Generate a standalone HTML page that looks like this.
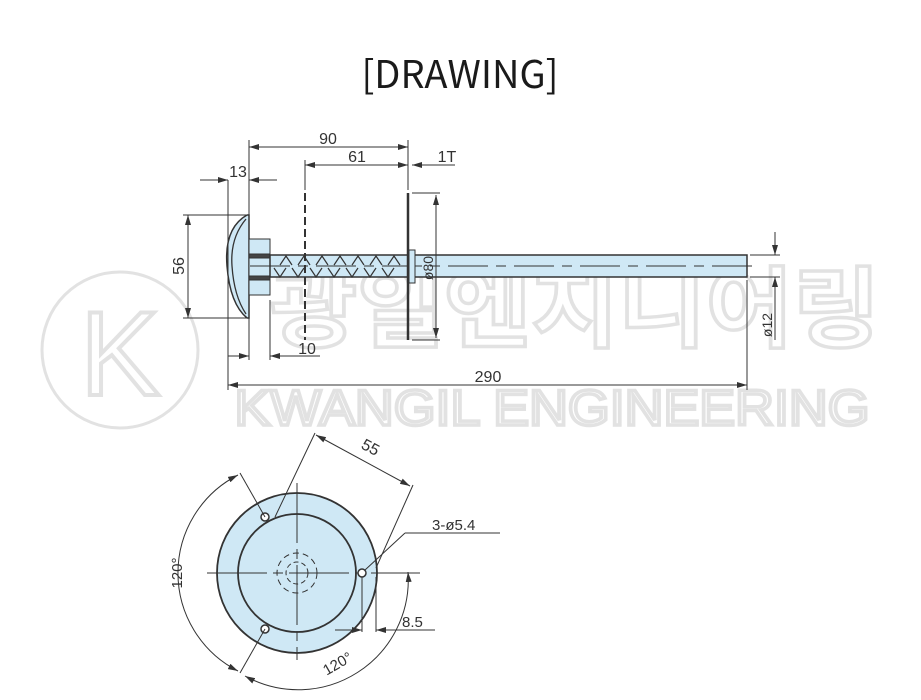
<!DOCTYPE html>
<html><head><meta charset="utf-8"><style>
html,body{margin:0;padding:0;background:#fff;}
svg{display:block;}
</style></head><body>
<svg width="921" height="700" viewBox="0 0 921 700" xmlns="http://www.w3.org/2000/svg" font-family="Liberation Sans, sans-serif">
<defs>
<marker id="a" viewBox="0 0 10 6" refX="10" refY="3" markerWidth="10" markerHeight="6" orient="auto-start-reverse" markerUnits="userSpaceOnUse"><path d="M0,0 L10,3 L0,6z" fill="#333"/></marker>
</defs>
<text x="460" y="88" text-anchor="middle" font-size="38" fill="#1a1a1a" font-family="Noto Sans CJK KR, Liberation Sans, sans-serif" font-weight="400">[DRAWING]</text>

<!-- watermark -->
<g fill="none" stroke="#e2e2e2" stroke-width="3">
<circle cx="120" cy="350" r="78"/>
<text x="120" y="395" text-anchor="middle" font-size="120" stroke-width="4">K</text>
<text x="575" y="340" text-anchor="middle" font-size="88" font-weight="bold" font-family="Noto Sans CJK KR, sans-serif" textLength="610" lengthAdjust="spacingAndGlyphs" stroke-width="3.5">광일엔지니어링</text>
<text x="552" y="425" text-anchor="middle" font-size="50" textLength="635" lengthAdjust="spacingAndGlyphs" stroke-width="3.5">KWANGIL ENGINEERING</text>
</g>

<g stroke="#333" stroke-width="1" fill="none">
<path d="M247,215 Q224,228 227,266 Q230,304 247,318 L249,318 L249,215z" fill="#cfe8f5" stroke="#333" stroke-width="1.5"/>
<path d="M246,219 Q230,238 232,266 Q234,296 246,314" stroke-width="1.3"/>
<rect x="249" y="239" width="21" height="56" fill="#cfe8f5"/>
<rect x="249" y="254" width="21" height="4" fill="#444"/>
<rect x="249" y="276" width="21" height="4" fill="#444"/>
<rect x="270" y="255" width="477" height="22" fill="#cfe8f5" stroke-width="1.5"/>
<line x1="250" y1="266" x2="760" y2="266" stroke-dasharray="40,8,10,8"/>
<path d="M280,265 l6,-9 l6,9 m6,0 l6,-9 l6,9 m6,0 l6,-9 l6,9 m6,0 l6,-9 l6,9 m6,0 l6,-9 l6,9 m6,0 l6,-9 l6,9 m6,0 l6,-9 l6,9 M274,268 l6,9 l6,-9 m6,0 l6,9 l6,-9 m6,0 l6,9 l6,-9 m6,0 l6,9 l6,-9 m6,0 l6,9 l6,-9 m6,0 l6,9 l6,-9 m6,0 l6,9 l6,-9" stroke-width="1.2"/>
<line x1="408" y1="193" x2="408" y2="340" stroke-width="2.5"/>
<rect x="409" y="250" width="6" height="33" fill="#cfe8f5"/>
<line x1="305" y1="193" x2="305" y2="340" stroke-width="2" stroke-dasharray="8,4"/>
<line x1="249" y1="140" x2="249" y2="360"/>
<line x1="305" y1="160" x2="305" y2="190"/>
<line x1="408" y1="140" x2="408" y2="190"/>
<line x1="228" y1="180" x2="228" y2="390"/>
<line x1="270" y1="300" x2="270" y2="360"/>
<line x1="747" y1="280" x2="747" y2="390"/>
<line x1="183" y1="215" x2="246" y2="215"/>
<line x1="183" y1="318" x2="246" y2="318"/>
<line x1="412" y1="193" x2="440" y2="193"/>
<line x1="412" y1="340" x2="440" y2="340"/>
<line x1="750" y1="255" x2="780" y2="255"/>
<line x1="750" y1="277" x2="780" y2="277"/>
<line x1="249" y1="147" x2="408" y2="147" marker-start="url(#a)" marker-end="url(#a)"/>
<line x1="305" y1="165" x2="408" y2="165" marker-start="url(#a)" marker-end="url(#a)"/>
<line x1="412" y1="165" x2="455" y2="165" marker-start="url(#a)"/>
<line x1="200" y1="180" x2="228" y2="180" marker-end="url(#a)"/>
<line x1="249" y1="180" x2="277" y2="180" marker-start="url(#a)"/>
<line x1="188" y1="215" x2="188" y2="318" marker-start="url(#a)" marker-end="url(#a)"/>
<line x1="436" y1="195" x2="436" y2="338" marker-start="url(#a)" marker-end="url(#a)"/>
<line x1="228" y1="356" x2="249" y2="356" marker-end="url(#a)"/>
<line x1="270" y1="356" x2="320" y2="356" marker-start="url(#a)"/>
<line x1="228" y1="385" x2="747" y2="385" marker-start="url(#a)" marker-end="url(#a)"/>
<line x1="775" y1="232" x2="775" y2="255" marker-end="url(#a)"/>
<line x1="775" y1="277" x2="775" y2="340" marker-start="url(#a)"/>
</g>
<g fill="#333" font-size="16">
<text x="328" y="144" text-anchor="middle">90</text>
<text x="357" y="162" text-anchor="middle">61</text>
<text x="447" y="162" text-anchor="middle">1T</text>
<text x="238" y="177" text-anchor="middle">13</text>
<text x="307" y="354" text-anchor="middle">10</text>
<text x="488" y="382" text-anchor="middle">290</text>
<text transform="translate(184,266) rotate(-90)" text-anchor="middle">56</text>
<text transform="translate(433,268) rotate(-90)" text-anchor="middle" font-size="14">ø80</text>
<text transform="translate(772,325) rotate(-90)" text-anchor="middle" font-size="14">ø12</text>
</g>

<g stroke="#333" fill="none" stroke-width="1">
<circle cx="297" cy="573" r="80" fill="#cfe8f5" stroke-width="1.8"/>
<circle cx="297" cy="573" r="59" stroke-width="1.8"/>
<circle cx="297" cy="573" r="20" stroke-dasharray="6,4"/>
<circle cx="297" cy="573" r="11" stroke-dasharray="5,3"/>
<line x1="207" y1="573" x2="420" y2="573" stroke-dasharray="60,6,10,6"/>
<line x1="297" y1="483" x2="297" y2="660" stroke-dasharray="60,6,10,6"/>
<circle cx="362" cy="573" r="4" fill="#fff" stroke-width="1.5"/>
<circle cx="265" cy="517" r="4" fill="#fff" stroke-width="1.5"/>
<circle cx="265" cy="629" r="4" fill="#fff" stroke-width="1.5"/>
<line x1="265" y1="517" x2="240" y2="473"/>
<line x1="265" y1="629" x2="240" y2="673"/>
<line x1="275" y1="517" x2="315" y2="433"/>
<line x1="376" y1="568" x2="413" y2="485"/>
<line x1="316" y1="435" x2="410" y2="486" marker-start="url(#a)" marker-end="url(#a)"/>
<path d="M238,475 A110,110 0 0 0 238,671" marker-start="url(#a)" marker-end="url(#a)"/>
<path d="M245,676 A110,110 0 0 0 408,572" marker-start="url(#a)" marker-end="url(#a)"/>
<line x1="365" y1="570" x2="405" y2="533"/>
<line x1="405" y1="533" x2="500" y2="533"/>
<line x1="362" y1="577" x2="362" y2="632"/>
<line x1="376" y1="577" x2="376" y2="632"/>
<line x1="335" y1="630" x2="362" y2="630" marker-end="url(#a)"/>
<line x1="376" y1="630" x2="435" y2="630" marker-start="url(#a)"/>
</g>
<g fill="#333" font-size="16">
<text transform="translate(368,452) rotate(28)" text-anchor="middle">55</text>
<text x="432" y="530" font-size="15">3-ø5.4</text>
<text x="402" y="627" font-size="15">8.5</text>
<text transform="translate(182,573) rotate(-90)" text-anchor="middle" font-size="15">120°</text>
<text transform="translate(340,668) rotate(-30)" text-anchor="middle" font-size="15">120°</text>
</g>
</svg>
</body></html>
